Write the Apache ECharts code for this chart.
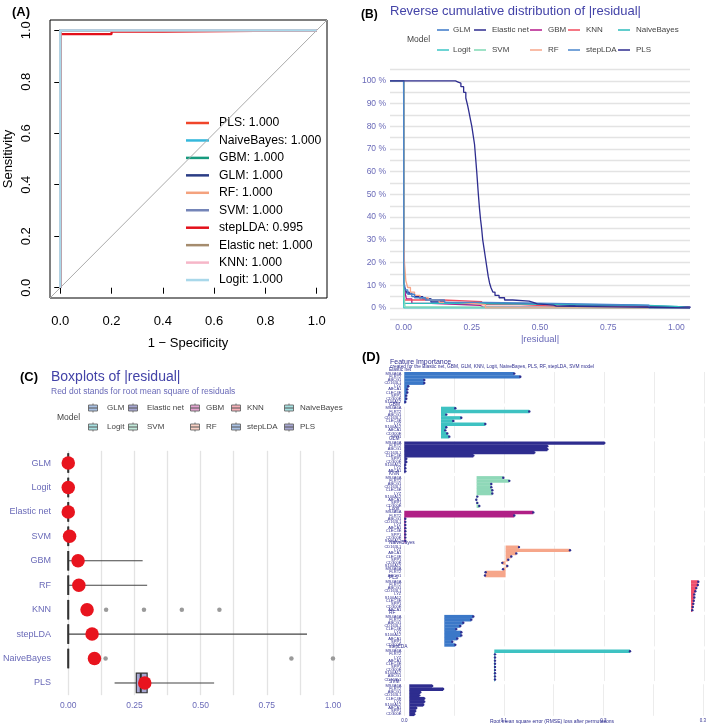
<!DOCTYPE html>
<html><head><meta charset="utf-8">
<script src="https://cdn.jsdelivr.net/npm/echarts@6/dist/echarts.min.js"></script>
<style>html,body{margin:0;padding:0;background:#fff}#c{width:709px;height:724px}</style>
</head><body><div id="c"></div>
<script>
// ---------- Panel A : ROC ----------
const rocModels = ['PLS','NaiveBayes','GBM','GLM','RF','SVM','stepLDA','Elastic net','KNN','Logit'];
const rocAUC = ['1.000','1.000','1.000','1.000','1.000','1.000','0.995','1.000','1.000','1.000'];
const rocColors = ['#f0452a','#35b8dc','#169a7e','#2b3d85','#f4a27e','#7485b8','#e3101a','#a58c6e','#f6b6c8','#a9d8ea'];
const rocPerfect = [[0,0],[0,1],[1,1]];
const rocStepLDA = [[0,0],[0,0.985],[0.2,0.985],[0.2,0.995],[0.4,0.995],[0.4,1],[1,1]];
const rocDiagonal = [[-0.04,-0.04],[1.04,1.04]];
const rocTicks = [0,0.2,0.4,0.6,0.8,1.0];

// ---------- Panel B : reverse cumulative distribution ----------
const rcdModels = ['GLM','Elastic net','GBM','KNN','NaiveBayes','Logit','SVM','RF','stepLDA','PLS'];
const rcdColors = ['#3b78c8','#2e2d8f','#b5198b','#f24b5c','#2ebdbd','#3cc6c6','#7fd8b4','#f7a68a','#4a86cc','#2e2d8f'];
const rcdGLM = [[-0.05,100],[0,100],[0.0005,12],[0.004,8],[0.01,6.5],[0.03,5],[0.06,4],[0.1,2.5],[0.15,2],[0.28,1.5],[0.55,1],[0.85,0.6],[0.99,0]];
const rcdElasticNet = [[-0.05,100],[0,100],[0.0005,13],[0.004,9],[0.01,7],[0.02,6],[0.04,5],[0.07,4],[0.1,3],[0.15,2],[0.3,2],[0.47,1.5],[0.55,1],[0.63,0.6],[1.0,0.5],[1.05,0]];
const rcdGBM = [[-0.05,100],[0,100],[0.0003,64],[0.001,20],[0.003,8],[0.01,4],[0.03,2],[0.1,1.2],[0.28,0.5],[0.29,0],[1.05,0]];
const rcdKNN = [[-0.05,100],[0,100],[0.0005,3.5],[0.143,2.8],[0.286,1.5],[0.429,0.7],[0.571,0],[1.05,0]];
const rcdNaiveBayes = [[-0.05,100],[0,100],[0.0005,2],[0.142,1.3],[0.843,0.7],[1.0,0],[1.05,0]];
const rcdLogit = [[-0.05,100],[0,100],[0.0005,0],[1.05,0]];
const rcdSVM = [[-0.05,100],[0,100],[0.0005,33],[0.002,5],[0.005,0.5],[0.14,0],[1.05,0]];
const rcdRF = [[-0.05,100],[0,100],[0.0005,35],[0.003,20],[0.008,12],[0.015,9],[0.025,7],[0.04,5.5],[0.06,4.5],[0.09,3.5],[0.13,2.5],[0.2,2],[0.25,1.5],[0.3,0],[1.05,0]];
const rcdStepLDA = [[-0.05,100],[0,100],[0.0005,11],[0.005,8],[0.015,6],[0.04,4.5],[0.08,3.5],[0.15,2.5],[0.3,2],[0.55,1.2],[0.9,0],[1.05,0]];
const rcdPLS = [[-0.05,100],[0.175,100],[0.19,99.5],[0.2,99],[0.21,97.5],[0.22,95],[0.228,92.5],[0.235,89],[0.24,86],[0.245,83],[0.25,80],[0.255,76],[0.26,72],[0.264,66],[0.268,60],[0.271,55],[0.274,50],[0.278,44],[0.282,39],[0.286,35],[0.29,30],[0.295,26],[0.3,22],[0.305,18],[0.31,14],[0.315,11],[0.32,9],[0.327,7],[0.335,5.5],[0.35,4.5],[0.37,3.5],[0.4,3],[0.46,2.5],[0.475,1.8],[0.49,1.2],[0.55,0.8],[0.56,0],[1.05,0]];
const rcdData = [rcdGLM, rcdElasticNet, rcdGBM, rcdKNN, rcdNaiveBayes, rcdLogit, rcdSVM, rcdRF, rcdStepLDA, rcdPLS];
const rcdXTicks = [0,0.25,0.5,0.75,1.0];

// ---------- Panel C : boxplots ----------
const boxCats = ['GLM','Logit','Elastic net','SVM','GBM','RF','KNN','stepLDA','NaiveBayes','PLS'];
const boxMin = [0,0,0,0,0,0,0,0,0,0.175];
const boxQ1  = [0,0,0,0,0,0,0,0,0,0.257];
const boxMed = [0,0,0,0,0,0,0,0,0,0.274];
const boxQ3  = [0,0,0,0,0,0,0,0,0,0.298];
const boxMax = [0,0,0,0,0.281,0.298,0,0.902,0,0.551];
const rmse   = [0,0,0,0.005,0.037,0.04,0.071,0.09,0.099,0.289];
const outKNN = [0.143,0.286,0.429,0.571];
const outNaiveBayes = [0.141,0.843,1.0];
const boxLegendRow1 = ['GLM','Elastic net','GBM','KNN','NaiveBayes'];
const boxLegendRow2 = ['Logit','SVM','RF','stepLDA','PLS'];
const boxLegendFill = {'GLM':'#a9c1e4','Elastic net':'#a7a7d2','GBM':'#e4a3d0','KNN':'#f7b0b8','NaiveBayes':'#a6e1e1','Logit':'#a8e2e2','SVM':'#c3ebdb','RF':'#fad1c4','stepLDA':'#a9c1e4','PLS':'#a7a7d2'};
const boxGrid = [0,0.125,0.25,0.375,0.5,0.625,0.75,0.875,1.0];

// ---------- Panel D : feature importance ----------
const dModels = ['Elastic net','GBM','GLM','KNN','Logit','NaiveBayes','PLS','RF','stepLDA','SVM'];
const dColors = ['#3b78c8','#3ec2c2','#2e2d8f','#8fd8b8','#b01f86','#f6a68a','#ef4f6c','#3b78c8','#3ec2c2','#2e2d8f'];
const dBaseline = [0, 0.0367, 0, 0.0723, 0, 0.1013, 0.2867, 0.04, 0.09, 0.005];
const featElasticNet = ['MS4A6A','FLRT2','ABCG1','CD163L1','LYZ','ABCA1','CLEC4E','SPP1','CD300E','S100A12'];
const featGBM        = ['MS4A6A','FLRT2','ABCG1','CD163L1','CLEC4E','LYZ','S100A12','ABCA1','CD300E','SPP1'];
const featGLM        = ['MS4A6A','FLRT2','ABCG1','CD163L1','CLEC4E','SPP1','CD300E','S100A12','LYZ','ABCA1'];
const featKNN        = ['MS4A6A','FLRT2','ABCG1','CD163L1','CLEC4E','LYZ','S100A12','ABCA1','SPP1','CD300E'];
const featLogit      = ['MS4A6A','FLRT2','ABCG1','CD163L1','LYZ','ABCA1','CLEC4E','SPP1','CD300E','S100A12'];
const featNaiveBayes = ['CD163L1','LYZ','ABCA1','CLEC4E','SPP1','CD300E','S100A12','MS4A6A','FLRT2','ABCG1'];
const featPLS        = ['MS4A6A','FLRT2','ABCG1','CD163L1','LYZ','S100A12','CLEC4E','SPP1','CD300E','ABCA1'];
const featRF         = ['MS4A6A','FLRT2','ABCG1','CD163L1','CLEC4E','LYZ','S100A12','ABCA1','SPP1','CD300E'];
const featStepLDA    = ['MS4A6A','FLRT2','LYZ','ABCA1','CLEC4E','SPP1','CD300E','S100A12','ABCG1','CD163L1'];
const featSVM        = ['MS4A6A','FLRT2','ABCG1','CD163L1','CLEC4E','LYZ','S100A12','ABCA1','SPP1','CD300E'];
const impElasticNet = [0.110,0.116,0.020,0.020,0.004,0.003,0.003,0.002,0.002,0.001];
const impGBM        = [0.051,0.125,0.042,0.057,0.049,0.081,0.042,0.041,0.043,0.045];
const impGLM        = [0.200,0.143,0.143,0.130,0.069,0.002,0.002,0.001,0.001,0.001];
const impKNN        = [0.099,0.105,0.087,0.087,0.088,0.088,0.073,0.072,0.073,0.075];
const impLogit      = [0.129,0.110,0.001,0.001,0.001,0.001,0.001,0.001,0.001,0.001];
const impNaiveBayes = [0.1147,0.1657,0.112,0.107,0.104,0.098,0.103,0.0987,0.0813,0.0807];
const impPLS        = [0.294,0.2935,0.292,0.291,0.290,0.290,0.2895,0.289,0.2885,0.288];
const impRF         = [0.069,0.067,0.059,0.056,0.052,0.057,0.057,0.053,0.048,0.051];
const impStepLDA    = [0.2257,0.0907,0.0907,0.0907,0.0907,0.0907,0.0907,0.0907,0.0907,0.0907];
const impSVM        = [0.028,0.039,0.016,0.015,0.020,0.020,0.019,0.012,0.011,0.010];
const dFeat = [featElasticNet,featGBM,featGLM,featKNN,featLogit,featNaiveBayes,featPLS,featRF,featStepLDA,featSVM];
const dImp  = [impElasticNet,impGBM,impGLM,impKNN,impLogit,impNaiveBayes,impPLS,impRF,impStepLDA,impSVM];
const dGridTicks = [0,0.05,0.1,0.15,0.2,0.25,0.3];
const dLabelTicks = [0,0.1,0.2,0.3];

// ---------- build ----------
const slate = '#6a6ab8';
const titleBlue = '#4343a8';
const FF = 'Liberation Sans, Arial, sans-serif';

const grids = [], xAxes = [], yAxes = [], series = [], graphics = [];

// A
grids.push({left:50, top:20, width:277, height:278, show:true, borderColor:'#000', borderWidth:1, backgroundColor:'transparent'});
xAxes.push({gridIndex:0, type:'value', min:-0.04, max:1.04, axisLine:{show:false}, splitLine:{show:false},
  axisTick:{show:true, length:6, customValues:rocTicks, lineStyle:{color:'#000'}},
  axisLabel:{customValues:rocTicks, formatter:v=>v.toFixed(1), fontSize:13, color:'#000', margin:17, fontFamily:FF}});
yAxes.push({gridIndex:0, type:'value', min:-0.04, max:1.04, axisLine:{show:false}, splitLine:{show:false},
  axisTick:{show:true, length:6, customValues:rocTicks, lineStyle:{color:'#000'}},
  axisLabel:{customValues:rocTicks, formatter:v=>v.toFixed(1), fontSize:13, color:'#000', margin:17, rotate:90, fontFamily:FF}});
series.push({type:'line', xAxisIndex:0, yAxisIndex:0, data:rocDiagonal, showSymbol:false, lineStyle:{color:'#aaaaaa', width:1}, z:1});
rocModels.forEach((m,i)=>{
  series.push({name:'A '+m, type:'line', xAxisIndex:0, yAxisIndex:0, data: m==='stepLDA'?rocStepLDA:rocPerfect,
    showSymbol:false, lineStyle:{color:rocColors[i], width:2.2}, z:2});
});

// B
grids.push({left:390, top:69.6, width:300, height:249.7});
xAxes.push({gridIndex:1, type:'value', min:-0.05, max:1.05, axisLine:{show:false}, splitLine:{show:false},
  axisTick:{show:false, customValues:rcdXTicks},
  axisLabel:{customValues:rcdXTicks, formatter:v=>v.toFixed(2), fontSize:8.5, color:slate, margin:4, fontFamily:FF}});
yAxes.push({gridIndex:1, type:'value', min:-5, max:105, interval:5, axisLine:{show:false}, axisTick:{show:false},
  splitLine:{show:true, lineStyle:{color:'#e3e3e3', width:1.3}},
  axisLabel:{formatter:v=>(v>=0 && v%10===0)?(v+' %'):'', fontSize:8.5, color:slate, margin:4, fontFamily:FF}});
rcdModels.forEach((m,i)=>{
  series.push({name:'B '+m, type:'line', xAxisIndex:1, yAxisIndex:1, data:rcdData[i], step:'end',
    showSymbol:false, lineStyle:{color:rcdColors[i], width:1.3}, z: m==='PLS'?5:3});
});

// C
grids.push({left:50.5, top:450.8, width:295.7, height:244.4});
xAxes.push({gridIndex:2, type:'value', min:-0.05, max:1.05, axisLine:{show:false},
  axisTick:{show:false, customValues:boxGrid},
  splitLine:{show:true, lineStyle:{color:'#e3e3e3', width:1.3}},
  axisLabel:{customValues:[0,0.25,0.5,0.75,1.0], formatter:v=>v.toFixed(2), fontSize:8.5, color:slate, margin:6, fontFamily:FF}});
yAxes.push({gridIndex:2, type:'category', data:boxCats, inverse:true, axisLine:{show:false}, axisTick:{show:false},
  splitLine:{show:false}, axisLabel:{fontSize:9, color:slate, margin:4, interval:0, fontFamily:FF}});
series.push({type:'custom', xAxisIndex:2, yAxisIndex:2,
  data: boxCats.map((c,i)=>[i, boxMin[i], boxQ1[i], boxMed[i], boxQ3[i], boxMax[i]]),
  encode:{x:[1,2,3,4,5], y:0},
  renderItem:(params, api)=>{
    const ci = api.value(0);
    const y = api.coord([0, ci])[1];
    const bh = api.size([0,1])[1]*0.8;
    const xs = [1,2,3,4,5].map(k=>api.coord([api.value(k), ci])[0]);
    const fill = boxLegendFill[boxCats[ci]];
    return {type:'group', children:[
      {type:'line', shape:{x1:xs[0],y1:y,x2:xs[1],y2:y}, style:{stroke:'#444',lineWidth:1.1}},
      {type:'line', shape:{x1:xs[3],y1:y,x2:xs[4],y2:y}, style:{stroke:'#444',lineWidth:1.1}},
      {type:'rect', shape:{x:xs[1], y:y-bh/2, width:xs[3]-xs[1], height:bh}, style:{fill:fill, stroke:'#333', lineWidth:1.2}},
      {type:'line', shape:{x1:xs[2],y1:y-bh/2,x2:xs[2],y2:y+bh/2}, style:{stroke:'#333',lineWidth:2}}
    ]};
  }, z:2});
series.push({type:'scatter', xAxisIndex:2, yAxisIndex:2, symbolSize:4.5,
  data: outKNN.map(v=>[v,6]).concat(outNaiveBayes.map(v=>[v,8])),
  itemStyle:{color:'#9a9a9a', opacity:1}, z:3});
series.push({type:'scatter', xAxisIndex:2, yAxisIndex:2, symbolSize:13.5,
  data: rmse.map((v,i)=>[v,i]), itemStyle:{color:'#e8141e', opacity:1}, z:4});

// D
const dTop0 = 372, dStep = 34.7, dH = 31.5;
dModels.forEach((m,fi)=>{
  const gi = 3+fi;
  const last = fi===dModels.length-1;
  grids.push({left:404.3, top:dTop0+fi*dStep, width:303.5, height:dH});
  xAxes.push({gridIndex:gi, type:'value', min:0, max:0.3035, axisLine:{show:false},
    axisTick:{show:false, customValues:dGridTicks},
    splitLine:{show:true, lineStyle:{color:'#ececec', width:1}},
    axisLabel:{show:last, customValues:dLabelTicks, formatter:v=>v.toFixed(1), fontSize:4.5, color:'#2e2d8f', margin:2, fontFamily:FF}});
  yAxes.push({gridIndex:gi, type:'category', data:dFeat[fi], inverse:true, axisLine:{show:false}, axisTick:{show:false},
    axisLabel:{fontSize:4, color:'#2e2d8f', margin:3, interval:0, fontFamily:FF}});
  series.push({type:'custom', xAxisIndex:gi, yAxisIndex:gi,
    data: dImp[fi].map((v,k)=>[dBaseline[fi], v, k]),
    encode:{x:[0,1], y:2},
    renderItem:(params, api)=>{
      const k = api.value(2);
      const p0 = api.coord([api.value(0), k]);
      const p1 = api.coord([api.value(1), k]);
      const h = api.size([0,1])[1];
      return {type:'rect', shape:{x:Math.min(p0[0],p1[0]), y:p0[1]-h/2, width:Math.max(Math.abs(p1[0]-p0[0]),0.6), height:h+0.3},
        style:{fill:dColors[fi]}};
    }});
  series.push({type:'scatter', xAxisIndex:gi, yAxisIndex:gi, symbolSize:2.4,
    data: dImp[fi].map((v,k)=>[v,k]), itemStyle:{color:'#2e2d8f', opacity:1}, z:3});
  graphics.push({type:'text', left:389, top:dTop0+fi*dStep-5, style:{text:m, fontSize:4.8, fill:'#2e2d8f', fontFamily:FF}});
});

// ---- texts & legends ----
function txt(x,y,s,o){ return Object.assign({type:'text', x:x, y:y, style:Object.assign({text:s, fontFamily:FF, textVerticalAlign:'middle'}, o||{})}); }
// A
graphics.push(txt(12,12,'(A)',{fontSize:13, fontWeight:'bold', fill:'#000'}));
graphics.push(txt(188,343,'1 − Specificity',{fontSize:13, fill:'#000', textAlign:'center'}));
graphics.push({type:'text', x:8, y:159, rotation:Math.PI/2, style:{text:'Sensitivity', fontSize:13, fill:'#000', textAlign:'center', textVerticalAlign:'middle', fontFamily:FF}});
rocModels.forEach((m,i)=>{
  const y = 123 + i*17.45;
  graphics.push({type:'line', shape:{x1:186,y1:y,x2:209,y2:y}, style:{stroke:rocColors[i], lineWidth:2.5}});
  graphics.push(txt(219,y,m+': '+rocAUC[i],{fontSize:12.2, fill:'#000'}));
});
// B
graphics.push(txt(361,15,'(B)',{fontSize:12, fontWeight:'bold', fill:'#000'}));
graphics.push(txt(390,11,'Reverse cumulative distribution of |residual|',{fontSize:13, fill:titleBlue}));
graphics.push(txt(407,40,'Model',{fontSize:8.5, fill:'#444'}));
const legX = [[437,453],[474,492],[530,548],[568,586],[618,636]];
const rcdLegendRows = [['GLM','Elastic net','GBM','KNN','NaiveBayes'],['Logit','SVM','RF','stepLDA','PLS']];
rcdLegendRows.forEach((row,r)=>{
  const y = r===0?30:50;
  row.forEach((m,j)=>{
    const ci = rcdModels.indexOf(m);
    graphics.push({type:'line', shape:{x1:legX[j][0],y1:y,x2:legX[j][0]+12,y2:y}, style:{stroke:rcdColors[ci], lineWidth:1.5}});
    graphics.push(txt(legX[j][1],y,m,{fontSize:8, fill:'#444'}));
  });
});
graphics.push(txt(540,339,'|residual|',{fontSize:9.5, fill:slate, textAlign:'center'}));
// C
graphics.push(txt(20,377,'(C)',{fontSize:13, fontWeight:'bold', fill:'#000'}));
graphics.push(txt(51,377,'Boxplots of |residual|',{fontSize:14, fill:titleBlue}));
graphics.push(txt(51,392,'Red dot stands for root mean square of residuals',{fontSize:8.5, fill:slate}));
graphics.push(txt(57,418,'Model',{fontSize:8.5, fill:'#444'}));
const cLegX = [[93,107],[133,147],[195,206],[236,247],[289,300]];
[boxLegendRow1, boxLegendRow2].forEach((row,r)=>{
  const y = r===0?408:427;
  row.forEach((m,j)=>{
    const cx = cLegX[j][0];
    graphics.push({type:'line', shape:{x1:cx,y1:y-4.5,x2:cx,y2:y+4.5}, style:{stroke:'#666', lineWidth:0.9}});
    graphics.push({type:'rect', shape:{x:cx-4.5,y:y-3,width:9,height:6}, style:{fill:boxLegendFill[m], stroke:'#666', lineWidth:0.9}});
    graphics.push({type:'line', shape:{x1:cx-4.5,y1:y,x2:cx+4.5,y2:y}, style:{stroke:'#555', lineWidth:1}});
    graphics.push(txt(cLegX[j][1],y,m,{fontSize:8, fill:'#444'}));
  });
});
// D
graphics.push(txt(362,357,'(D)',{fontSize:13, fontWeight:'bold', fill:'#000'}));
graphics.push(txt(390,362,'Feature Importance',{fontSize:7, fill:'#2e2d8f'}));
graphics.push(txt(390,366.8,'created for the Elastic net, GBM, GLM, KNN, Logit, NaiveBayes, PLS, RF, stepLDA, SVM model',{fontSize:4.8, fill:'#2e2d8f'}));
graphics.push(txt(552,722,'Root mean square error (RMSE) loss after permutations',{fontSize:5, fill:'#2e2d8f', textAlign:'center'}));

const chart = echarts.init(document.getElementById('c'), null, {renderer:'canvas'});
chart.setOption({
  animation:false,
  backgroundColor:'#fff',
  textStyle:{fontFamily:FF},
  grid:grids, xAxis:xAxes, yAxis:yAxes, series:series, graphic:graphics
});
</script></body></html>
